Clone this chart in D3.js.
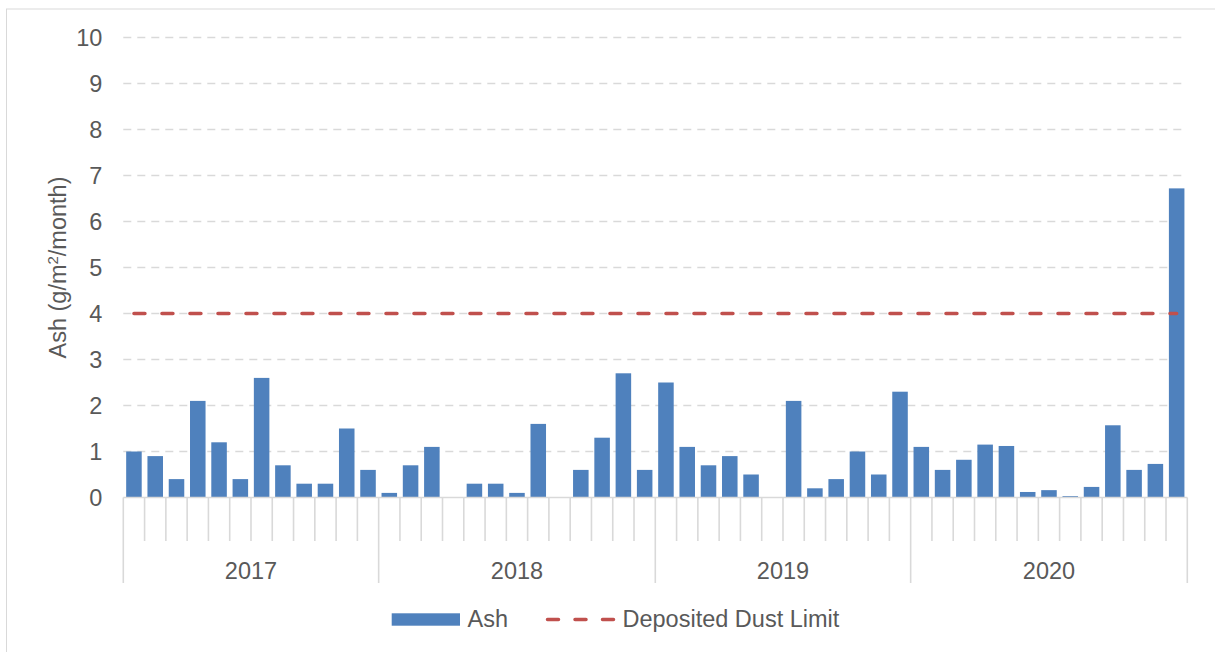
<!DOCTYPE html>
<html>
<head>
<meta charset="utf-8">
<script src="https://cdn.jsdelivr.net/npm/d3@7"></script>
<style>
  html, body { margin: 0; padding: 0; background: #fff; }
  svg { display: block; }
  text { font-family: "Liberation Sans", Arial, sans-serif; fill: #595959; }
</style>
</head>
<body>
<svg id="chart" width="1215" height="652"></svg>
<script>
// ---- data ----
const years = ["2017", "2018", "2019", "2020"];
const monthsPerYear = [12, 13, 12, 13];
const ash2017 = [1.0, 0.9, 0.4, 2.1, 1.2, 0.4, 2.6, 0.7, 0.3, 0.3, 1.5, 0.6];
const ash2018 = [0.1, 0.7, 1.1, null, 0.3, 0.3, 0.1, 1.6, null, 0.6, 1.3, 2.7, 0.6];
const ash2019 = [2.5, 1.1, 0.7, 0.9, 0.5, null, 2.1, 0.2, 0.4, 1.0, 0.5, 2.3];
const ash2020 = [1.1, 0.6, 0.82, 1.15, 1.12, 0.12, 0.16, 0.03, 0.23, 1.57, 0.6, 0.73, 6.72];
const dustLimit = 4;
const yTicks = [0, 1, 2, 3, 4, 5, 6, 7, 8, 9, 10];
const seriesNames = ["Ash", "Deposited Dust Limit"];

// ---- build category table ----
const ashByYear = [ash2017, ash2018, ash2019, ash2020];
const rows = [];
years.forEach((yr, i) => {
  for (let m = 0; m < monthsPerYear[i]; m++) {
    rows.push({ key: yr + "-" + m, year: yr, idx: m, value: ashByYear[i][m] });
  }
});

// ---- layout ----
const svg = d3.select("#chart");
const plotLeft = 123.3, plotRight = 1187.3, plotTop = 37.5, plotBottom = 497.5;
const gridColor = "#d9d9d9";
const fs = "23.5px";

// outer border
svg.append("rect")
  .attr("x", 6.5).attr("y", 9).attr("width", 1230).attr("height", 660)
  .attr("fill", "none").attr("stroke", gridColor).attr("stroke-width", 1);

const x = d3.scaleBand()
  .domain(rows.map(d => d.key))
  .range([plotLeft, plotRight])
  .paddingInner(0.27)
  .paddingOuter(0.135);

const y = d3.scaleLinear().domain([0, 10]).range([plotBottom, plotTop]);

// gridlines
svg.append("g").selectAll("line")
  .data(yTicks.filter(t => t > 0))
  .join("line")
  .attr("x1", plotLeft).attr("x2", 1182)
  .attr("y1", d => y(d)).attr("y2", d => y(d))
  .attr("stroke", gridColor).attr("stroke-width", 1.4)
  .attr("stroke-dasharray", "8 6");

// y axis labels
const yAxis = d3.axisLeft(y).tickValues(yTicks).tickSize(0).tickPadding(21);
const gy = svg.append("g").attr("transform", `translate(${plotLeft},0)`).call(yAxis);
gy.select(".domain").remove();
gy.selectAll("text")
  .style("font-size", fs)
  .style("font-family", "'Liberation Sans', Arial, sans-serif")
  .attr("fill", "#595959");

// y axis title
svg.append("text")
  .attr("transform", `translate(65.5,${(plotTop + plotBottom) / 2}) rotate(-90)`)
  .attr("text-anchor", "middle")
  .style("font-size", fs)
  .html('Ash (g/m<tspan dy="-8" style="font-size:15px">2</tspan><tspan dy="8">/month)</tspan>');

// bars
svg.append("g").selectAll("rect")
  .data(rows.filter(d => d.value != null))
  .join("rect")
  .attr("x", d => x(d.key))
  .attr("width", x.bandwidth())
  .attr("y", d => y(d.value))
  .attr("height", d => y(0) - y(d.value))
  .attr("fill", "#4f81bd");

// x axis baseline
const step = x.step();
svg.append("line")
  .attr("x1", plotLeft).attr("x2", plotRight)
  .attr("y1", plotBottom).attr("y2", plotBottom)
  .attr("stroke", gridColor).attr("stroke-width", 1.6);

// category ticks (short) and year boundaries (long)
const boundaries = [0];
let acc = 0;
monthsPerYear.forEach(n => { acc += n; boundaries.push(acc); });
const tickIdx = d3.range(0, rows.length + 1);
svg.append("g").selectAll("line")
  .data(tickIdx)
  .join("line")
  .attr("x1", i => plotLeft + i * step).attr("x2", i => plotLeft + i * step)
  .attr("y1", plotBottom)
  .attr("y2", i => boundaries.includes(i) ? 583 : 541)
  .attr("stroke", gridColor).attr("stroke-width", 1.6);

// year labels
svg.append("g").selectAll("text")
  .data(years)
  .join("text")
  .attr("x", (d, i) => plotLeft + (boundaries[i] + boundaries[i + 1]) / 2 * step)
  .attr("y", 578.5)
  .attr("text-anchor", "middle")
  .style("font-size", fs)
  .text(d => d);

// dust limit line (from first category centre to last)
const line = d3.line().x(d => x(d.key) + x.bandwidth() / 2).y(d => y(dustLimit));
svg.append("path")
  .datum([rows[0], rows[rows.length - 1]])
  .attr("d", line)
  .attr("fill", "none")
  .attr("stroke", "#c0504d")
  .attr("stroke-width", 3.5)
  .attr("stroke-linecap", "round")
  .attr("stroke-dasharray", "11 17");

// legend
const lg = svg.append("g");
lg.append("rect").attr("x", 391.7).attr("y", 613.3).attr("width", 68.3).attr("height", 12.4).attr("fill", "#4f81bd");
lg.append("text").attr("x", 467.5).attr("y", 627.3).style("font-size", fs).text(seriesNames[0]);
lg.append("line")
  .attr("x1", 547.5).attr("x2", 613.5).attr("y1", 619.5).attr("y2", 619.5)
  .attr("stroke", "#c0504d").attr("stroke-width", 3.5)
  .attr("stroke-linecap", "round").attr("stroke-dasharray", "11 16.5");
lg.append("text").attr("x", 622.5).attr("y", 627.3).style("font-size", fs).text(seriesNames[1]);
</script>
</body>
</html>
